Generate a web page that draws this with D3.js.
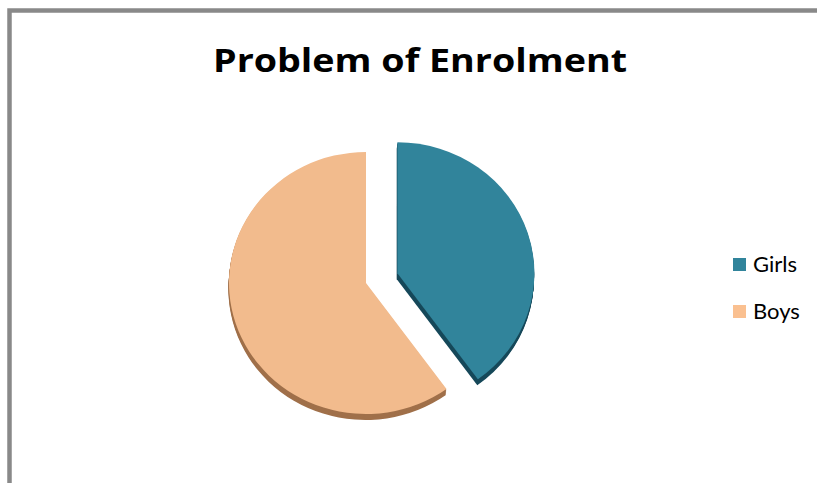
<!DOCTYPE html>
<html><head><meta charset="utf-8">
<script src="https://cdn.jsdelivr.net/npm/d3@7"></script>
<style>html,body{margin:0;padding:0;background:#fff;}svg{display:block;}</style>
</head><body>
<script>
const categories = ["Girls", "Boys"];
const values = [40, 60];
const colors = ["#31849b", "#f2bb8d"];
const sideColors = ["#17495a", "#a0704a"];
const legendColors = ["#31849b", "#fac090"];
const title = "Problem of Enrolment";

const W = 817, H = 483;
const svg = d3.select("body").append("svg").attr("width", W).attr("height", H);

// frame
svg.append("rect").attr("x", 9.5).attr("y", 10.5).attr("width", 900).attr("height", 600)
  .attr("fill", "#fff").attr("stroke", "#898989").attr("stroke-width", 4.5);

// title
svg.append("text").attr("x", 420).attr("y", 72).attr("text-anchor", "middle")
  .attr("font-family", "'Open Sans', sans-serif").attr("font-weight", "bold")
  .attr("font-size", 32).attr("textLength", 414).attr("lengthAdjust", "spacingAndGlyphs")
  .attr("fill", "#000").text(title);

// pie
const cx = 366, cy = 283, rx = 137, ry = 131, depth = 6, explode = 33;
const pie = d3.pie().sort(null).startAngle(0).endAngle(2 * Math.PI);
const arcs = pie(values);
const arc = d3.arc().innerRadius(0).outerRadius(rx);
const g = svg.append("g");

arcs.forEach((a, i) => {
  const mid = (a.startAngle + a.endAngle) / 2;
  const off = i === 0 ? explode : 0;
  const ox = cx + off * Math.sin(mid);
  const oy = cy - off * Math.cos(mid) * (ry / rx);
  const sg = g.append("g").attr("transform", `translate(${ox},${oy})`);
  for (let k = depth; k >= 1; k--) {
    sg.append("path").attr("d", arc(a))
      .attr("transform", `translate(${-k * 0.1},${k}) scale(1,${ry / rx})`)
      .attr("fill", sideColors[i]);
  }
  sg.append("path").attr("d", arc(a))
    .attr("transform", `scale(1,${ry / rx})`)
    .attr("fill", colors[i]);
});

// legend
const leg = svg.append("g");
categories.forEach((c, i) => {
  const y = 258 + i * 47;
  leg.append("rect").attr("x", 733).attr("y", y).attr("width", 13).attr("height", 13)
    .attr("fill", legendColors[i]);
  leg.append("text").attr("x", 753).attr("y", y + 14)
    .attr("font-family", "Lato, sans-serif").attr("font-size", 22)
    .attr("fill", "#000").text(c);
});
</script>
</body></html>
